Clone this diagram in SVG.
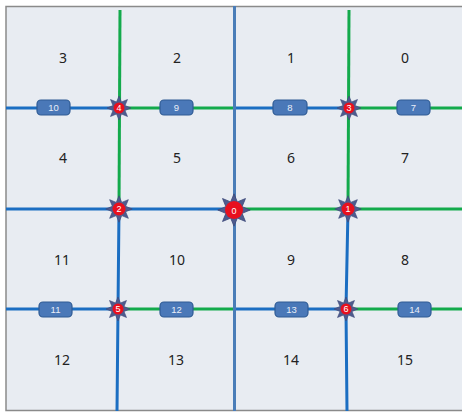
<svg xmlns="http://www.w3.org/2000/svg" width="462" height="412" viewBox="0 0 462 412">
  <style>
    .cell { font-family: "Noto Sans", "Liberation Sans", sans-serif; font-size: 14px; fill: #222; text-anchor: middle; }
    .blue { stroke: #1b6ec2; stroke-width: 3; fill: none; }
    .green { stroke: #13aa4c; stroke-width: 3; fill: none; }
    .axis { stroke: #4a7db8; stroke-width: 3; fill: none; }
    .pill { fill: #4a78b8; stroke: #2f5b94; stroke-width: 1.2; }
    .plabel { font-family: "Liberation Sans", sans-serif; font-size: 9.5px; fill: #e8eef8; text-anchor: middle; }
    .star { fill: #4e5b8e; stroke: #3c4878; stroke-width: 0.6; }
    .dot { fill: #e8101e; }
    .nlabel { font-family: "Liberation Sans", sans-serif; font-size: 9px; fill: #ffffff; text-anchor: middle; }
  </style>
  <defs>
    <polygon id="starShape" points="12,0 6.0,2.49 8.49,8.49 2.49,6.0 0,12 -2.49,6.0 -8.49,8.49 -6.0,2.49 -12,0 -6.0,-2.49 -8.49,-8.49 -2.49,-6.0 0,-12 2.49,-6.0 8.49,-8.49 6.0,-2.49"/>
  </defs>
  <rect x="6" y="6.5" width="470" height="404" fill="#e8ecf2" stroke="#8a8a8a" stroke-width="1.5"/>

  <g id="cells">
    <text class="cell" x="63" y="63">3</text>
    <text class="cell" x="177" y="63">2</text>
    <text class="cell" x="291" y="63">1</text>
    <text class="cell" x="405" y="63">0</text>
    <text class="cell" x="63" y="163">4</text>
    <text class="cell" x="177" y="163">5</text>
    <text class="cell" x="291" y="163">6</text>
    <text class="cell" x="405" y="163">7</text>
    <text class="cell" x="62" y="265">11</text>
    <text class="cell" x="177" y="265">10</text>
    <text class="cell" x="291" y="265">9</text>
    <text class="cell" x="405" y="265">8</text>
    <text class="cell" x="62" y="365">12</text>
    <text class="cell" x="176" y="365">13</text>
    <text class="cell" x="291" y="365">14</text>
    <text class="cell" x="405" y="365">15</text>
  </g>

  <g id="connectors">
    <line class="blue" x1="6" y1="108" x2="119" y2="108"/>
    <line class="green" x1="119" y1="108" x2="234" y2="108"/>
    <line class="blue" x1="234" y1="108" x2="349" y2="108"/>
    <line class="green" x1="349" y1="108" x2="462" y2="108"/>
    <line class="blue" x1="6" y1="209" x2="234" y2="209"/>
    <line class="green" x1="234" y1="209" x2="462" y2="209"/>
    <line class="blue" x1="6" y1="309" x2="118" y2="309"/>
    <line class="green" x1="118" y1="309" x2="234" y2="309"/>
    <line class="blue" x1="234" y1="309" x2="346" y2="309"/>
    <line class="green" x1="346" y1="309" x2="462" y2="309"/>
    <polyline class="green" points="120,10 119,209"/>
    <polyline class="blue" points="119,209 118,309 117,411"/>
    <polyline class="green" points="349,10 348,209"/>
    <polyline class="blue" points="348,209 346,309 347,411"/>
    <line class="axis" x1="234.5" y1="6" x2="234.5" y2="411"/>
  </g>

  <g id="edge-labels">
    <g id="e10"><rect class="pill" x="37" y="100" width="33" height="15" rx="4"/><text class="plabel" x="53.5" y="111">10</text></g>
    <g id="e9"><rect class="pill" x="160" y="100" width="33" height="15" rx="4"/><text class="plabel" x="176.5" y="111">9</text></g>
    <g id="e8"><rect class="pill" x="273" y="100" width="34" height="15" rx="4"/><text class="plabel" x="290" y="111">8</text></g>
    <g id="e7"><rect class="pill" x="397" y="100" width="33" height="15" rx="4"/><text class="plabel" x="413.5" y="111">7</text></g>
    <g id="e11"><rect class="pill" x="39" y="302" width="33" height="15" rx="4"/><text class="plabel" x="55.5" y="313">11</text></g>
    <g id="e12"><rect class="pill" x="160" y="302" width="33" height="15" rx="4"/><text class="plabel" x="176.5" y="313">12</text></g>
    <g id="e13"><rect class="pill" x="275" y="302" width="33" height="15" rx="4"/><text class="plabel" x="291.5" y="313">13</text></g>
    <g id="e14"><rect class="pill" x="398" y="302" width="33" height="15" rx="4"/><text class="plabel" x="414.5" y="313">14</text></g>
  </g>

  <g id="n4" transform="translate(119,108)"><use href="#starShape" class="star"/><circle class="dot" r="5.5"/><text class="nlabel" y="3.2">4</text></g>
  <g id="n3" transform="translate(349,108)"><use href="#starShape" class="star"/><circle class="dot" r="5.5"/><text class="nlabel" y="3.2">3</text></g>
  <g id="n2" transform="translate(119,209)"><use href="#starShape" class="star" transform="scale(1.1)"/><circle class="dot" r="6.5"/><text class="nlabel" y="3.3">2</text></g>
  <g id="n1" transform="translate(348,209)"><use href="#starShape" class="star" transform="scale(1.1)"/><circle class="dot" r="6.5"/><text class="nlabel" y="3.3">1</text></g>
  <g id="n0" transform="translate(234,210)"><use href="#starShape" class="star" transform="scale(1.35)"/><circle class="dot" r="9"/><text class="nlabel" y="4" font-size="11">0</text></g>
  <g id="n5" transform="translate(118,309)"><use href="#starShape" class="star"/><circle class="dot" r="5.5"/><text class="nlabel" y="3.2">5</text></g>
  <g id="n6" transform="translate(346,309)"><use href="#starShape" class="star"/><circle class="dot" r="5.5"/><text class="nlabel" y="3.2">6</text></g>
</svg>
